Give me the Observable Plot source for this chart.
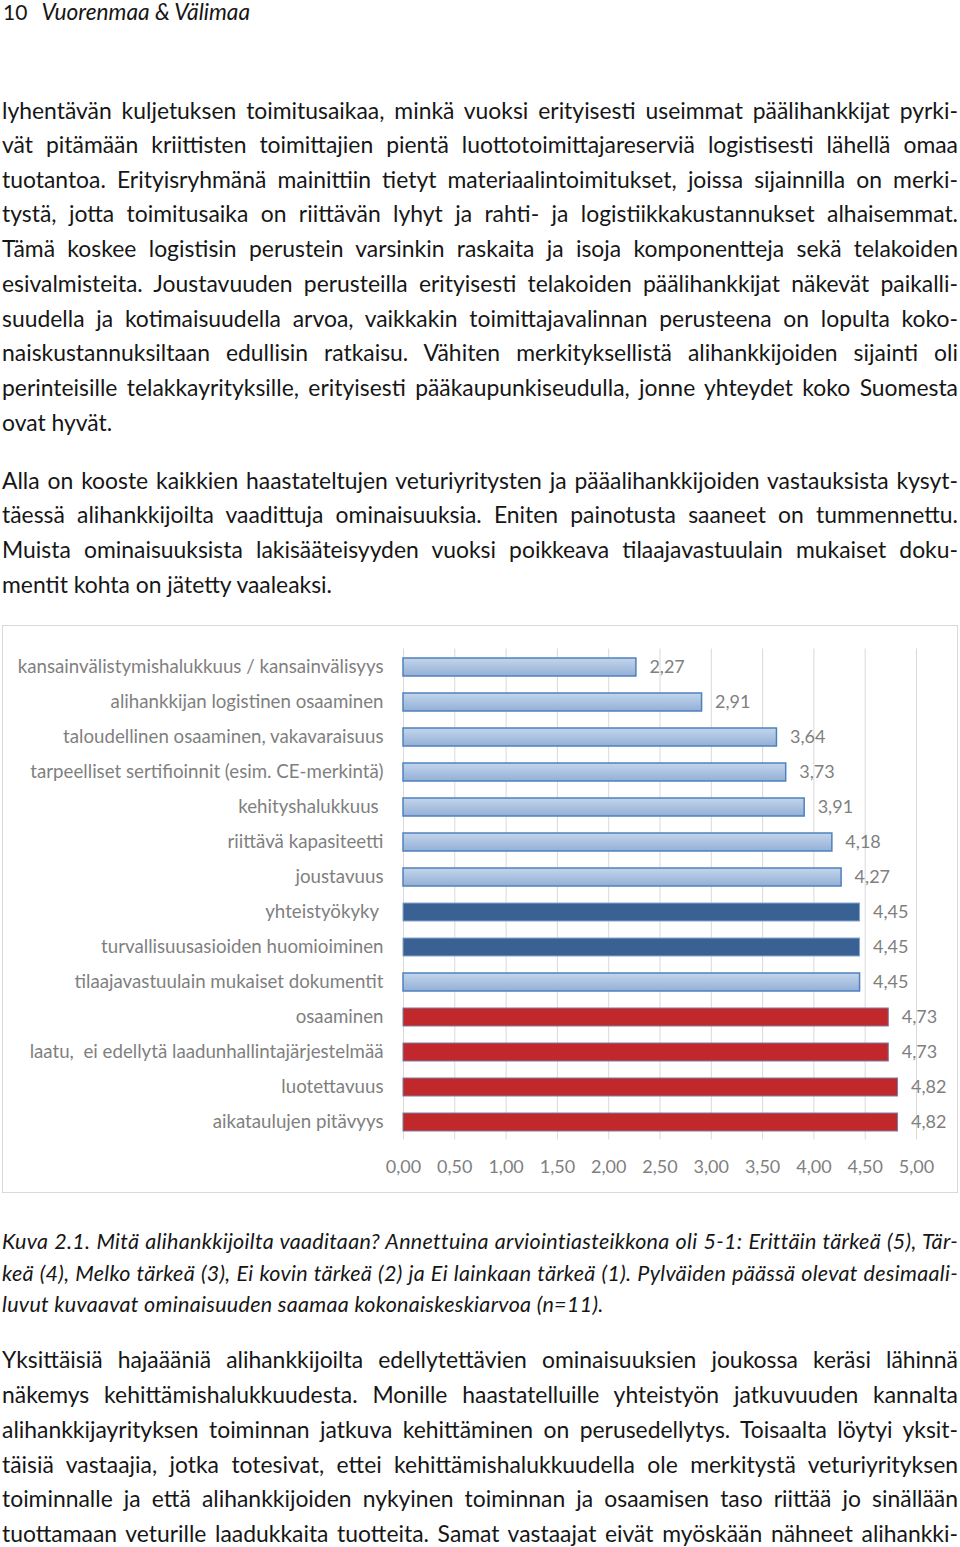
<!DOCTYPE html>
<html>
<head>
<meta charset="utf-8">
<script src="https://cdn.jsdelivr.net/npm/d3@7"></script>
<script src="https://cdn.jsdelivr.net/npm/@observablehq/plot@0.6"></script>
<style>
  html, body { margin: 0; padding: 0; background: #fff; }
  body { position: relative; width: 960px; height: 1547px; overflow: hidden; font-family: Lato, "Open Sans", sans-serif; color: #161616; }
  .ln { position: absolute; left: 2px; width: 956px; height: 30px; line-height: 30px; white-space: nowrap; font-size: 22.9px; }
  .cap { font-style: italic; font-size: 21.5px; letter-spacing: 0.3px; }
  #hdr { position: absolute; left: 3px; top: -3px; line-height: 30px; font-size: 21px; white-space: nowrap; }
  #hdr i { margin-left: 14px; font-size: 22.7px; }
  #chart { position: absolute; left: 2px; top: 625px; width: 956px; height: 568px; border: 1px solid #d9d9d9; box-sizing: border-box; }
  #chart svg text { white-space: pre; }
</style>
</head>
<body>
<div id="hdr">10<i>Vuorenmaa &amp; Välimaa</i></div>
<div id="text"></div>
<div id="chart"></div>
<script>
// ---- chart data ----
const categories = [
  "kansainvälistymishalukkuus / kansainvälisyys",
  "alihankkijan logistinen osaaminen",
  "taloudellinen osaaminen, vakavaraisuus",
  "tarpeelliset sertifioinnit (esim. CE-merkintä)",
  "kehityshalukkuus ",
  "riittävä kapasiteetti",
  "joustavuus",
  "yhteistyökyky ",
  "turvallisuusasioiden huomioiminen",
  "tilaajavastuulain mukaiset dokumentit",
  "osaaminen",
  "laatu,  ei edellytä laadunhallintajärjestelmää",
  "luotettavuus",
  "aikataulujen pitävyys"
];
const values = [2.27, 2.91, 3.64, 3.73, 3.91, 4.18, 4.27, 4.45, 4.45, 4.45, 4.73, 4.73, 4.82, 4.82];
const emphasis = ["light","light","light","light","light","light","light","dark","dark","light","red","red","red","red"];
const xTicks = [0, 0.5, 1, 1.5, 2, 2.5, 3, 3.5, 4, 4.5, 5];

// ---- page text ----
const para1 = [
  ["lyhentävän kuljetuksen toimitusaikaa, minkä vuoksi erityisesti useimmat päälihankkijat pyrki-", 1],
  ["vät pitämään kriittisten toimittajien pientä luottotoimittajareserviä logistisesti lähellä omaa", 1],
  ["tuotantoa. Erityisryhmänä mainittiin tietyt materiaalintoimitukset, joissa sijainnilla on merki-", 1],
  ["tystä, jotta toimitusaika on riittävän lyhyt ja rahti- ja logistiikkakustannukset alhaisemmat.", 1],
  ["Tämä koskee logistisin perustein varsinkin raskaita ja isoja komponentteja sekä telakoiden", 1],
  ["esivalmisteita. Joustavuuden perusteilla erityisesti telakoiden päälihankkijat näkevät paikalli-", 1],
  ["suudella ja kotimaisuudella arvoa, vaikkakin toimittajavalinnan perusteena on lopulta koko-", 1],
  ["naiskustannuksiltaan edullisin ratkaisu.  Vähiten merkityksellistä alihankkijoiden sijainti oli", 1],
  ["perinteisille telakkayrityksille, erityisesti pääkaupunkiseudulla, jonne yhteydet koko Suomesta", 1],
  ["ovat hyvät.", 0]
];
const para1Y = [110, 144, 179, 213, 248, 283, 318, 352, 387, 422];
const para2 = [
  ["Alla on kooste kaikkien haastateltujen veturiyritysten ja pääalihankkijoiden vastauksista kysyt-", 1],
  ["täessä alihankkijoilta vaadittuja ominaisuuksia. Eniten painotusta saaneet on tummennettu.", 1],
  ["Muista ominaisuuksista lakisääteisyyden vuoksi poikkeava tilaajavastuulain mukaiset doku-", 1],
  ["mentit kohta on jätetty vaaleaksi.", 0]
];
const para2Y = [480, 514, 549, 584];
const caption = [
  ["Kuva 2.1. Mitä alihankkijoilta vaaditaan? Annettuina arviointiasteikkona oli 5-1: Erittäin tärkeä (5), Tär-", 1],
  ["keä (4), Melko tärkeä (3), Ei kovin tärkeä (2) ja Ei lainkaan tärkeä (1).  Pylväiden päässä olevat desimaali-", 1],
  ["luvut kuvaavat ominaisuuden saamaa kokonaiskeskiarvoa (n=11).", 0]
];
const captionY = [1241, 1273, 1304];
const para3 = [
  ["Yksittäisiä hajaääniä alihankkijoilta edellytettävien ominaisuuksien joukossa keräsi lähinnä", 1],
  ["näkemys kehittämishalukkuudesta. Monille haastatelluille yhteistyön jatkuvuuden kannalta", 1],
  ["alihankkijayrityksen toiminnan jatkuva kehittäminen on perusedellytys. Toisaalta löytyi yksit-", 1],
  ["täisiä vastaajia, jotka totesivat, ettei kehittämishalukkuudella ole merkitystä veturiyrityksen", 1],
  ["toiminnalle ja että alihankkijoiden nykyinen toiminnan ja osaamisen taso riittää jo sinällään", 1],
  ["tuottamaan veturille laadukkaita tuotteita. Samat vastaajat eivät myöskään nähneet alihankki-", 1]
];
const para3Y = [1359, 1394, 1429, 1464, 1498, 1533];

const textHost = document.getElementById("text");
function addLines(lines, ys, cls) {
  lines.forEach(([t, just], i) => {
    const d = document.createElement("div");
    d.className = "ln" + (cls ? " " + cls : "");
    d.style.top = (ys[i] - 15) + "px";
    const s = document.createElement("span");
    s.textContent = t;
    d.appendChild(s);
    if (just) d.dataset.just = "1";
    textHost.appendChild(d);
  });
}
addLines(para1, para1Y);
addLines(para2, para2Y);
addLines(caption, captionY, "cap");
addLines(para3, para3Y);

function justify() {
  document.querySelectorAll(".ln[data-just]").forEach(el => {
    const s = el.firstElementChild;
    s.style.wordSpacing = "0px";
    const w = s.getBoundingClientRect().width;
    const n = (s.textContent.match(/ +/g) || []).length;
    if (n) s.style.wordSpacing = ((956 - w) / n) + "px";
  });
}
justify();
if (document.fonts && document.fonts.ready) document.fonts.ready.then(justify);

// ---- chart ----
const rows = categories.map((c, i) => ({category: c, value: values[i], group: emphasis[i]}));
const fmt = d => d.toFixed(2).replace(".", ",");
const grey = "#7f7f7f";

const plot = Plot.plot({
  width: 954,
  height: 566,
  marginLeft: 400,
  marginRight: 41,
  marginTop: 22.5,
  marginBottom: 52.5,
  style: {fontFamily: "Lato, 'Open Sans', sans-serif", background: "transparent"},
  x: {domain: [0, 5], ticks: xTicks},
  y: {domain: categories, paddingInner: 0.5, paddingOuter: 0.25},
  marks: [
    Plot.gridX(xTicks, {stroke: "#d9d9d9", strokeOpacity: 1, strokeWidth: 1}),
    Plot.barX(rows.filter(d => d.group === "light"), {x: "value", y: "category", fill: "url(#lightGrad)", stroke: "#4f81bd", strokeWidth: 1.5}),
    Plot.barX(rows.filter(d => d.group === "dark"), {x: "value", y: "category", fill: "#3a6194", stroke: "#86a5cf", strokeWidth: 1}),
    Plot.barX(rows.filter(d => d.group === "red"), {x: "value", y: "category", fill: "#c0282b", stroke: "#7d7da6", strokeWidth: 1}),
    Plot.text(rows, {x: "value", y: "category", text: d => fmt(d.value), dx: 13, textAnchor: "start", fill: grey, fontSize: 18}),
    Plot.axisY({tickSize: 0, tickPadding: 20, fontSize: 18.7, color: grey, label: null}),
    Plot.axisX({ticks: xTicks, tickFormat: fmt, tickSize: 0, tickPadding: 20, fontSize: 18, color: grey, label: null})
  ]
});

const defs = d3.select(plot).insert("defs", ":first-child");
const g = defs.append("linearGradient").attr("id", "lightGrad").attr("x1", 0).attr("y1", 0).attr("x2", 0).attr("y2", 1);
g.append("stop").attr("offset", "0%").attr("stop-color", "#c3d5ec");
g.append("stop").attr("offset", "100%").attr("stop-color", "#93b0d6");

document.getElementById("chart").appendChild(plot);
</script>
</body>
</html>
